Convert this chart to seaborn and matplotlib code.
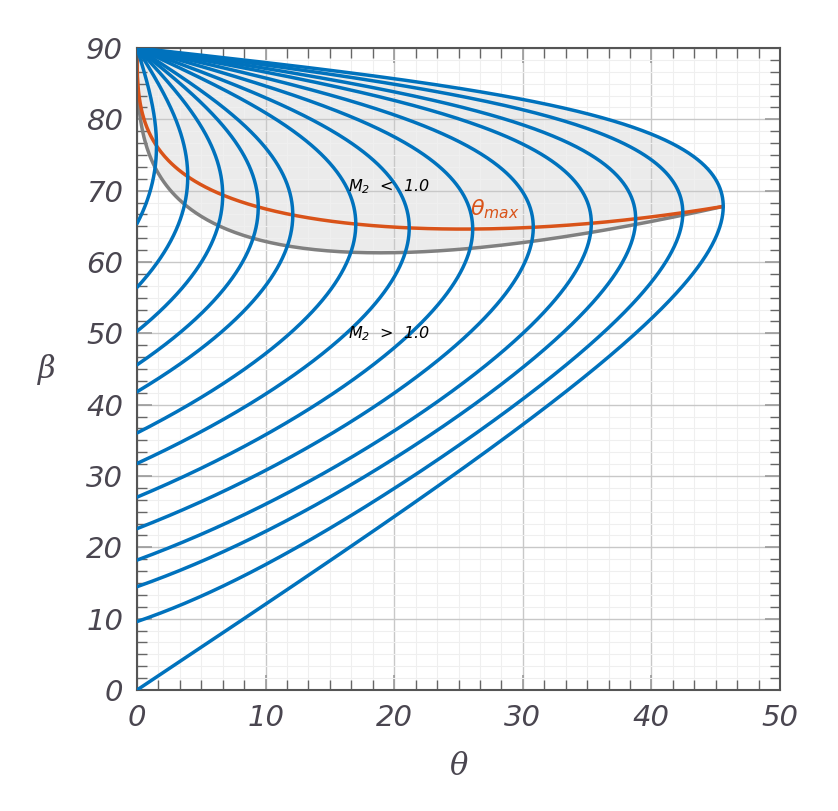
import numpy as np
import pandas as pd
import seaborn as sns
import matplotlib.pyplot as plt
from matplotlib.ticker import AutoMinorLocator

# upstream Mach numbers of the blue curves (read from the beta intercepts at theta = 0)
gamma = 1.4
mach_numbers = [1.1, 1.2, 1.3, 1.4, 1.5, 1.7, 1.9, 2.2, 2.6, 3.2, 4.0, 6.0, np.inf]
x_ticks = [0, 10, 20, 30, 40, 50]
y_ticks = [0, 10, 20, 30, 40, 50, 60, 70, 80, 90]
subsonic_label = r"$\mathit{M}_{\mathregular{2}}$  <  1.0"
supersonic_label = r"$\mathit{M}_{\mathregular{2}}$  >  1.0"
theta_max_label = r"$\theta_{max}$"

blue = "#0072BD"
orange = "#D95319"
grey = "#808080"
text_col = "#4a4650"


def theta_of_beta(beta_deg, M):
    b = np.radians(beta_deg)
    if np.isinf(M):
        t = np.sin(2 * b) / (gamma + np.cos(2 * b))
    else:
        t = 2 / np.tan(b) * (M**2 * np.sin(b)**2 - 1) / (M**2 * (gamma + np.cos(2 * b)) + 2)
    return np.degrees(np.arctan(t))


def beta_max(M):
    if np.isinf(M):
        return np.degrees(np.arcsin(np.sqrt((gamma + 1) / (2 * gamma))))
    s2 = ((gamma + 1) / 4 * M**2 - 1 + np.sqrt((gamma + 1) * ((gamma + 1) / 16 * M**4
          + (gamma - 1) / 2 * M**2 + 1))) / (gamma * M**2)
    return np.degrees(np.arcsin(np.sqrt(min(s2, 1.0))))


def downstream_mach(beta_deg, M):
    b = np.radians(beta_deg)
    th = np.radians(theta_of_beta(beta_deg, M))
    if np.isinf(M):
        mn2 = np.sqrt((gamma - 1) / (2 * gamma)) * np.ones_like(b)
    else:
        mn1 = M * np.sin(b)
        mn2 = np.sqrt((1 + (gamma - 1) / 2 * mn1**2) / (gamma * mn1**2 - (gamma - 1) / 2))
    return mn2 / np.sin(b - th)


def sonic_point(M):
    mu = 0.0 if np.isinf(M) else np.degrees(np.arcsin(1 / M))
    bm = beta_max(M)
    bb = np.linspace(mu + 1e-6, bm, 3000)
    m2 = downstream_mach(bb, M)
    bs = np.interp(1.0, m2[::-1], bb[::-1])
    return theta_of_beta(bs, M), bs


# blue curves
frames = []
for M in mach_numbers:
    mu = 0.0 if np.isinf(M) else np.degrees(np.arcsin(1 / M))
    bb = np.linspace(mu, 90, 600)
    frames.append(pd.DataFrame({"theta": theta_of_beta(bb, M), "beta": bb, "M": str(M)}))
curves = pd.concat(frames, ignore_index=True)

# theta-max and sonic lines
mach_env = list(1 + np.geomspace(2e-4, 2e3, 500)) + [np.inf]
tmax = np.array([[theta_of_beta(beta_max(M), M), beta_max(M)] for M in mach_env])
sonic = np.array([sonic_point(M) for M in mach_env])

sns.set_theme(style="ticks")
plt.rcParams["font.family"] = ["DejaVu Sans"]

fig = plt.figure(figsize=(8.38, 8.11), dpi=100)
ax = fig.add_axes([0.1635, 0.1492, 0.7673, 0.7916])

# shaded M2 < 1 region
inf_curve = curves[curves["M"] == "inf"]
strong = inf_curve[inf_curve["beta"] >= sonic[-1, 1]]
poly_x = np.concatenate([sonic[:, 0], strong["theta"].values])
poly_y = np.concatenate([sonic[:, 1], strong["beta"].values])
ax.fill(poly_x, poly_y, color="#ebebeb", lw=0, zorder=0.3)

sns.lineplot(x=sonic[:, 0], y=sonic[:, 1], sort=False, estimator=None,
             color=grey, lw=2.5, ax=ax, zorder=2)
sns.lineplot(x=tmax[:, 0], y=tmax[:, 1], sort=False, estimator=None,
             color=orange, lw=2.5, ax=ax, zorder=2.5)
sns.lineplot(data=curves, x="theta", y="beta", units="M", estimator=None, sort=False,
             color=blue, lw=2.5, ax=ax, zorder=3, legend=False)

ax.text(16.4, 70.6, subsonic_label, fontsize=11.5, style="italic", color="black", va="center")
ax.text(16.4, 50.0, supersonic_label, fontsize=11.5, style="italic", color="black", va="center")
ax.text(25.9, 67.4, theta_max_label, fontsize=16, color=orange, va="center")

ax.set_xlim(0, 50)
ax.set_ylim(0, 90)
ax.set_xticks(x_ticks)
ax.set_yticks(y_ticks)
ax.xaxis.set_minor_locator(AutoMinorLocator(6))
ax.yaxis.set_minor_locator(AutoMinorLocator(6))
ax.grid(which="major", color="#c8c8c8", lw=1.0)
ax.grid(which="minor", color="#efefef", lw=0.8)
ax.set_axisbelow(True)

ax.tick_params(which="both", direction="in", top=True, right=True)
ax.tick_params(which="major", length=10.8, width=1.2, color="#9a9a9a",
               labelsize=21, labelcolor=text_col, pad=10)
ax.tick_params(which="minor", length=7.2, width=1.0, color="#666666")
for lab in ax.get_xticklabels() + ax.get_yticklabels():
    lab.set_fontstyle("italic")

for sp in ax.spines.values():
    sp.set_color("#555555")
    sp.set_linewidth(1.5)

ax.set_xlabel("θ", fontsize=22, style="italic", color=text_col, family="DejaVu Serif", labelpad=14)
ax.set_ylabel("β", fontsize=22, style="italic", color=text_col, rotation=0,
              family="DejaVu Serif", va="center")
ax.yaxis.set_label_coords(-0.14, 0.5)

fig.savefig("out.png", dpi=100)
